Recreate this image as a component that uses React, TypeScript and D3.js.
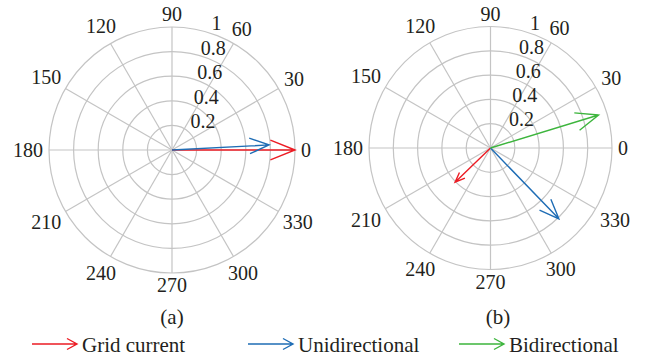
import React from "react";
import * as d3 from "d3";

const angleTicks = [0, 30, 60, 90, 120, 150, 180, 210, 240, 270, 300, 330];
const radialTicks = [0.2, 0.4, 0.6, 0.8, 1];
const radialLabels = ["0.2", "0.4", "0.6", "0.8", "1"];

const seriesNames = ["Grid current", "Unidirectional", "Bidirectional"];
const seriesColors = ["#ec1c24", "#1f6db5", "#3db53d"];

const panelASeries = [0, 1];
const panelAMagnitudes = [1.0, 0.79];
const panelAAngles = [0, 3];

const panelBSeries = [0, 1, 2];
const panelBMagnitudes = [0.405, 0.81, 0.93];
const panelBAngles = [224, 314, 17];

const panelTitles = ["(a)", "(b)"];

const FONT = "Liberation Serif, Tinos, Times New Roman, Nimbus Roman, DejaVu Serif, serif";
const TEXT = "#231f20";
const GRID = "#c4c4c4";

type PanelProps = {
  cx: number;
  cy: number;
  R: number;
  series: number[];
  mags: number[];
  angles: number[];
};

const textStyle = (fs: number) => ({ fontFamily: FONT, fontSize: fs + "px", fill: TEXT });

function Panel({ cx, cy, R, series, mags, angles }: PanelProps) {
  const r = d3.scaleLinear().domain([0, 1]).range([0, R]);
  const toRad = (deg: number) => (deg * Math.PI) / 180;
  const line = d3.line<[number, number]>();
  const fs = 20;
  const capH = fs * 0.662;

  return (
    <g>
      {radialTicks.map((t) => (
        <circle key={"c" + t} cx={cx} cy={cy} r={r(t)} fill="none" stroke={GRID} strokeWidth={1.2} />
      ))}
      {angleTicks.map((a) => (
        <line
          key={"s" + a}
          x1={cx}
          y1={cy}
          x2={cx + r(1) * Math.cos(toRad(a))}
          y2={cy - r(1) * Math.sin(toRad(a))}
          stroke={GRID}
          strokeWidth={1.2}
        />
      ))}
      {angleTicks.map((a) => {
        const label = String(a);
        const w = label.length * fs * 0.5;
        const c = Math.cos(toRad(a));
        const s = Math.sin(toRad(a));
        const d = r(1) + 6 + Math.abs(c) * (w / 2) + Math.abs(s) * (capH / 2);
        const x = cx + d * c;
        const y = cy - d * s;
        return (
          <text key={"l" + a} x={x} y={y + capH / 2} textAnchor="middle" style={textStyle(fs)}>
            {label}
          </text>
        );
      })}
      {radialTicks.map((t, i) => {
        const a = toRad(82);
        const x = cx + r(t) * Math.cos(a) + 27.5;
        const y = cy - r(t) * Math.sin(a) + 2.3;
        return (
          <text key={"r" + t} x={x} y={y} textAnchor="middle" style={textStyle(fs)}>
            {radialLabels[i]}
          </text>
        );
      })}
      {series.map((si, i) => {
        const m = mags[i];
        const th = toRad(angles[i]);
        const local: [number, number][] = [
          [0, 0],
          [1, 0],
          [0.8, 0.08],
          [1, 0],
          [0.8, -0.08],
        ];
        const pts: [number, number][] = local.map(([u, v]) => {
          const px = m * (u * Math.cos(th) - v * Math.sin(th));
          const py = m * (u * Math.sin(th) + v * Math.cos(th));
          return [cx + r(px), cy - r(py)];
        });
        return (
          <path
            key={"a" + i}
            d={line(pts) || ""}
            fill="none"
            stroke={seriesColors[si]}
            strokeWidth={1.4}
            strokeLinejoin="miter"
          />
        );
      })}
    </g>
  );
}

export default function App() {
  const width = 646;
  const height = 358;
  const legendX = [32, 248, 459];
  const legendY = 344;
  const arrowLen = 45;
  const line = d3.line<[number, number]>();

  return (
    <svg width={width} height={height} style={{ position: "absolute", left: 0, top: 0, background: "#fff" }}>
      <rect width={width} height={height} fill="#fff" />
      <Panel cx={172} cy={150} R={123} series={panelASeries} mags={panelAMagnitudes} angles={panelAAngles} />
      <Panel cx={490.5} cy={148} R={121.5} series={panelBSeries} mags={panelBMagnitudes} angles={panelBAngles} />
      <text x={172} y={324} textAnchor="middle" style={textStyle(21)}>
        {panelTitles[0]}
      </text>
      <text x={498} y={324} textAnchor="middle" style={textStyle(21)}>
        {panelTitles[1]}
      </text>
      {seriesNames.map((name, i) => {
        const x0 = legendX[i];
        const x1 = x0 + arrowLen;
        const pts: [number, number][] = [
          [x0, legendY],
          [x1, legendY],
          [x1 - 10, legendY - 5.5],
          [x1, legendY],
          [x1 - 10, legendY + 5.5],
        ];
        return (
          <g key={name}>
            <path d={line(pts) || ""} fill="none" stroke={seriesColors[i]} strokeWidth={1.4} />
            <text x={x1 + 5} y={351.5} style={textStyle(21)}>
              {name}
            </text>
          </g>
        );
      })}
    </svg>
  );
}
